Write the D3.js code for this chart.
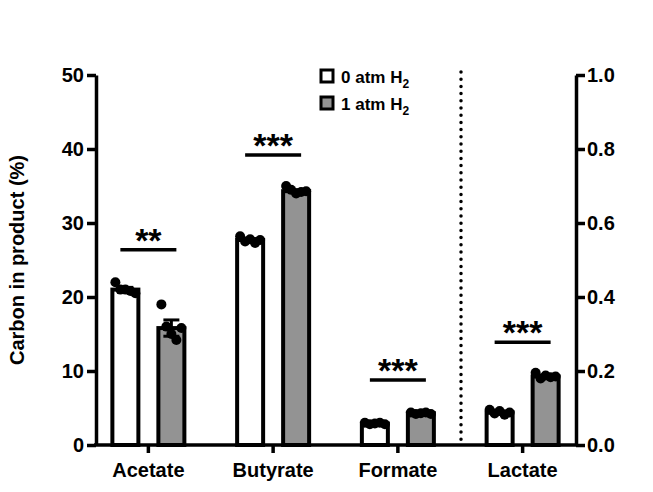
<!DOCTYPE html>
<html><head><meta charset="utf-8">
<script src="https://cdn.jsdelivr.net/npm/d3@7"></script>
<style>body{margin:0;background:#fff}text{font-family:Arial,"Liberation Sans",sans-serif;font-weight:bold}</style>
</head><body><div id="main"></div>
<script>
const categories = ["Acetate", "Butyrate", "Formate", "Lactate"];
const series = ["0 atm H2", "1 atm H2"];
// mean values (Lactate on the right axis)
const means0 = [21.0, 27.7, 2.9, 0.088];
const means1 = [15.8, 34.3, 4.3, 0.185];
const sem0 = [0.3, 0.2, 0.1, 0.004];
const sem1 = [1.1, 0.2, 0.1, 0.003];
const points0 = [[22.0, 21.0, 21.0, 20.8, 20.5], [28.2, 27.5, 27.8, 27.3, 27.7], [3.0, 2.8, 2.9, 3.0, 2.8], [0.095, 0.085, 0.092, 0.082, 0.088]];
const points1 = [[19.0, 16.0, 15.0, 14.2, 15.8], [35.0, 34.5, 34.0, 34.2, 34.3], [4.4, 4.2, 4.3, 4.4, 4.2], [0.195, 0.18, 0.188, 0.183, 0.185]];
const sigLabels = ["**", "***", "***", "***"];
const sigLevels = [26.4, 39.2, 8.8, 0.278];
const leftTicks = [0, 10, 20, 30, 40, 50];
const rightTicks = [0, 0.2, 0.4, 0.6, 0.8, 1.0];

const ctx = {w: 653, h: 492};
const svg = d3.select("#main").append("svg").attr("width", ctx.w).attr("height", ctx.h);

let x = d3.scaleBand().domain(categories).range([86, 585]);
let yL = d3.scaleLinear().domain([0, 50]).range([445, 75]);
let yR = d3.scaleLinear().domain([0, 1]).range([445, 75]);
const yFor = (i) => (categories[i] == "Lactate" ? yR : yL);
const barW = 26, off = 23;

// bars, error bars, dots
[[means0, sem0, points0, "#fff", -off], [means1, sem1, points1, "#939393", off]].forEach(([m, s, pts, fill, dx]) => {
    categories.forEach((c, i) => {
        let y = yFor(i);
        let cx = x(c) + x.bandwidth() / 2 + dx;
        svg.append("rect")
            .attr("x", cx - barW / 2).attr("y", y(m[i]))
            .attr("width", barW).attr("height", y(0) - y(m[i]))
            .attr("fill", fill).attr("stroke", "#000").attr("stroke-width", 4);
        svg.append("line").attr("x1", cx).attr("x2", cx)
            .attr("y1", y(m[i] + s[i])).attr("y2", y(m[i] - s[i])).attr("stroke", "#000").attr("stroke-width", 3);
        [m[i] + s[i], m[i] - s[i]].forEach((v) => svg.append("line")
            .attr("x1", cx - 8).attr("x2", cx + 8).attr("y1", y(v)).attr("y2", y(v))
            .attr("stroke", "#000").attr("stroke-width", 3));
        pts[i].forEach((v, k) => svg.append("circle")
            .attr("cx", cx - 10 + k * 5).attr("cy", y(v)).attr("r", 5).attr("fill", "#000"));
        // significance bars
        if (dx > 0) {
            let c0 = x(c) + x.bandwidth() / 2;
            let ly = y(sigLevels[i]);
            svg.append("line").attr("x1", c0 - 28).attr("x2", c0 + 28).attr("y1", ly).attr("y2", ly)
                .attr("stroke", "#000").attr("stroke-width", 3.5);
            svg.append("text").attr("x", c0).attr("y", ly + 2).attr("text-anchor", "middle")
                .attr("font-size", 34).text(sigLabels[i]);
        }
    });
});

// axes
let styleAxis = (g) => {
    g.selectAll("path,line").attr("stroke", "#000").attr("stroke-width", 3.5);
    g.selectAll("text").attr("font-size", 20).attr("fill", "#000");
};
svg.append("g").attr("transform", "translate(96,0)")
    .call(d3.axisLeft(yL).tickValues(leftTicks).tickSize(9).tickSizeOuter(0).tickPadding(3)).call(styleAxis);
svg.append("g").attr("transform", "translate(576,0)")
    .call(d3.axisRight(yR).tickValues(rightTicks).tickFormat(d3.format(".1f")).tickSize(9).tickSizeOuter(0).tickPadding(2)).call(styleAxis);
let xAxis = svg.append("g").attr("transform", "translate(0,445)")
    .call(d3.axisBottom(x).tickSize(8).tickSizeOuter(0).tickPadding(10)).call(styleAxis);
xAxis.select(".domain").attr("d", "M94,0H578");

// dotted separator
svg.append("line").attr("x1", 461).attr("x2", 461).attr("y1", 72).attr("y2", 442)
    .attr("stroke", "#000").attr("stroke-width", 3.5).attr("stroke-dasharray", "0 7.2").attr("stroke-linecap", "round");

// y label
svg.append("text").attr("transform", "translate(24,260) rotate(-90)").attr("text-anchor", "middle")
    .attr("font-size", 20).text("Carbon in product (%)");

// legend
["#fff", "#939393"].forEach((f, i) => {
    let ly = 77 + i * 27;
    svg.append("rect").attr("x", 321).attr("y", ly - 7).attr("width", 12).attr("height", 12)
        .attr("fill", f).attr("stroke", "#000").attr("stroke-width", 3);
    let t = svg.append("text").attr("x", 341).attr("y", ly + 6).attr("font-size", 17);
    t.append("tspan").text(series[i].slice(0, -1));
    t.append("tspan").attr("dy", 5).attr("font-size", 12).text("2");
});
</script></body></html>
